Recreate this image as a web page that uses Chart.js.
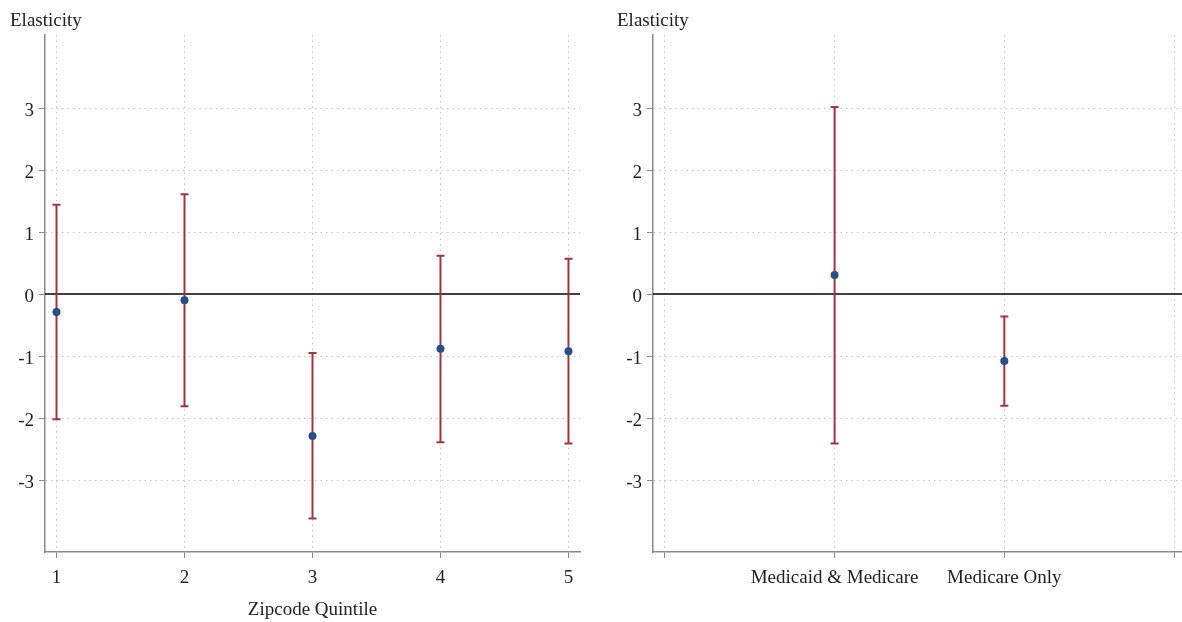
<!DOCTYPE html>
<html>
<head>
<meta charset="utf-8">
<script src="https://cdn.jsdelivr.net/npm/chart.js@4.4.1/dist/chart.umd.min.js"></script>
<style>
  html, body { margin: 0; padding: 0; background: #fff; overflow: hidden; }
  #wrap { position: relative; width: 1182px; height: 622px; overflow: hidden; }
  .panel { position: absolute; top: 0; height: 622px; }
  #left { left: 0; width: 600px; }
  #right { left: 600px; width: 586px; }
</style>
</head>
<body>
<div id="wrap">
  <div class="panel" id="left"><canvas id="quintileChart"></canvas></div>
  <div class="panel" id="right"><canvas id="planChart"></canvas></div>
</div>
<script>
// elasticity by zipcode quintile
const quintiles = [1, 2, 3, 4, 5];
const quintileEst = [-0.29, -0.10, -2.29, -0.88, -0.92];
const quintileLo = [-2.02, -1.81, -3.62, -2.39, -2.41];
const quintileHi = [1.44, 1.61, -0.95, 0.62, 0.57];

// elasticity by insurance type
const planLabels = ['Medicaid & Medicare', 'Medicare Only'];
const planPos = [1, 2];
const planEst = [0.31, -1.08];
const planLo = [-2.41, -1.80];
const planHi = [3.02, -0.36];

const yTicks = [-3, -2, -1, 0, 1, 2, 3];

const FONT = 'Liberation Serif, Times New Roman, serif';
const GRID = '#c4c4c4';
const AXIS = '#8a8a8a';
const POINT = '#21508a';
const BAR = '#a8323e';

Chart.defaults.font.family = FONT;
Chart.defaults.color = '#222';

// zero line + confidence intervals, drawn under the points
const errorBars = {
  id: 'errorBars',
  beforeDatasetsDraw(chart, args, opts) {
    const {ctx, chartArea, scales: {x, y}} = chart;
    ctx.save();
    ctx.strokeStyle = '#000';
    ctx.lineWidth = 1.5;
    ctx.beginPath();
    ctx.moveTo(chartArea.left, y.getPixelForValue(0));
    ctx.lineTo(chartArea.right, y.getPixelForValue(0));
    ctx.stroke();

    ctx.strokeStyle = BAR;
    ctx.lineWidth = 2;
    opts.xs.forEach((xv, i) => {
      const px = x.getPixelForValue(xv);
      const top = y.getPixelForValue(opts.hi[i]);
      const bot = y.getPixelForValue(opts.lo[i]);
      ctx.beginPath();
      ctx.moveTo(px, top); ctx.lineTo(px, bot);
      ctx.moveTo(px - 4, top); ctx.lineTo(px + 4, top);
      ctx.moveTo(px - 4, bot); ctx.lineTo(px + 4, bot);
      ctx.stroke();
    });
    ctx.restore();
  }
};

function makeChart(el, cfg) {
  return new Chart(el, {
    type: 'scatter',
    data: {
      datasets: [{
        data: cfg.xs.map((v, i) => ({x: v, y: cfg.est[i]})),
        backgroundColor: POINT,
        borderWidth: 0,
        pointRadius: 4
      }]
    },
    options: {
      responsive: true,
      maintainAspectRatio: false,
      animation: false,
      layout: {padding: {left: cfg.padLeft, right: cfg.padRight, top: 0, bottom: 0}},
      plugins: {
        legend: {display: false},
        tooltip: {enabled: false},
        title: {
          display: true,
          text: 'Elasticity',
          align: 'start',
          font: {size: 19, weight: 'normal'},
          color: '#222',
          padding: {top: 10, bottom: 2.2}
        },
        errorBars: {xs: cfg.xs, lo: cfg.lo, hi: cfg.hi}
      },
      scales: {
        x: {
          type: 'linear',
          min: cfg.xMin,
          max: cfg.xMax,
          afterBuildTicks: s => { s.ticks = cfg.xTicks.map(v => ({value: v})); },
          afterFit: s => { s.height = 70; },
          ticks: {
            font: {size: 19},
            padding: 9,
            maxRotation: 0,
            autoSkip: false,
            callback: cfg.xLabel
          },
          grid: {color: GRID, lineWidth: 1, tickColor: AXIS, tickLength: 6, tickWidth: 1},
          border: {color: AXIS, width: 1.5, dash: [1.5, 4]},
          title: {
            display: !!cfg.xTitle,
            text: cfg.xTitle || '',
            font: {size: 19},
            padding: {top: 6, bottom: 1}
          }
        },
        y: {
          min: -4.16,
          max: 4.18,
          afterBuildTicks: s => { s.ticks = yTicks.map(v => ({value: v})); },
          afterFit: s => { s.width = cfg.yWidth; },
          ticks: {font: {size: 19}, padding: 5, labelOffset: 3},
          grid: {
            color: c => (c.tick && c.tick.value === 0) ? 'rgba(0,0,0,0)' : GRID,
            lineWidth: 1, tickColor: AXIS, tickLength: 6, tickWidth: 1
          },
          border: {color: AXIS, width: 1.5, dash: [1.5, 4]}
        }
      }
    },
    plugins: [errorBars]
  });
}

makeChart(document.getElementById('quintileChart'), {
  xs: quintiles, est: quintileEst, lo: quintileLo, hi: quintileHi,
  xMin: 0.91, xMax: 5.09, xTicks: quintiles,
  xLabel: v => String(v),
  xTitle: 'Zipcode Quintile',
  padLeft: 10, padRight: 20, yWidth: 35
});

makeChart(document.getElementById('planChart'), {
  xs: planPos, est: planEst, lo: planLo, hi: planHi,
  xMin: -0.07, xMax: 3.047, xTicks: [0, 1, 2, 3],
  xLabel: v => planLabels[v - 1] || '',
  xTitle: null,
  padLeft: 17, padRight: 0, yWidth: 36
});
</script>
</body>
</html>
